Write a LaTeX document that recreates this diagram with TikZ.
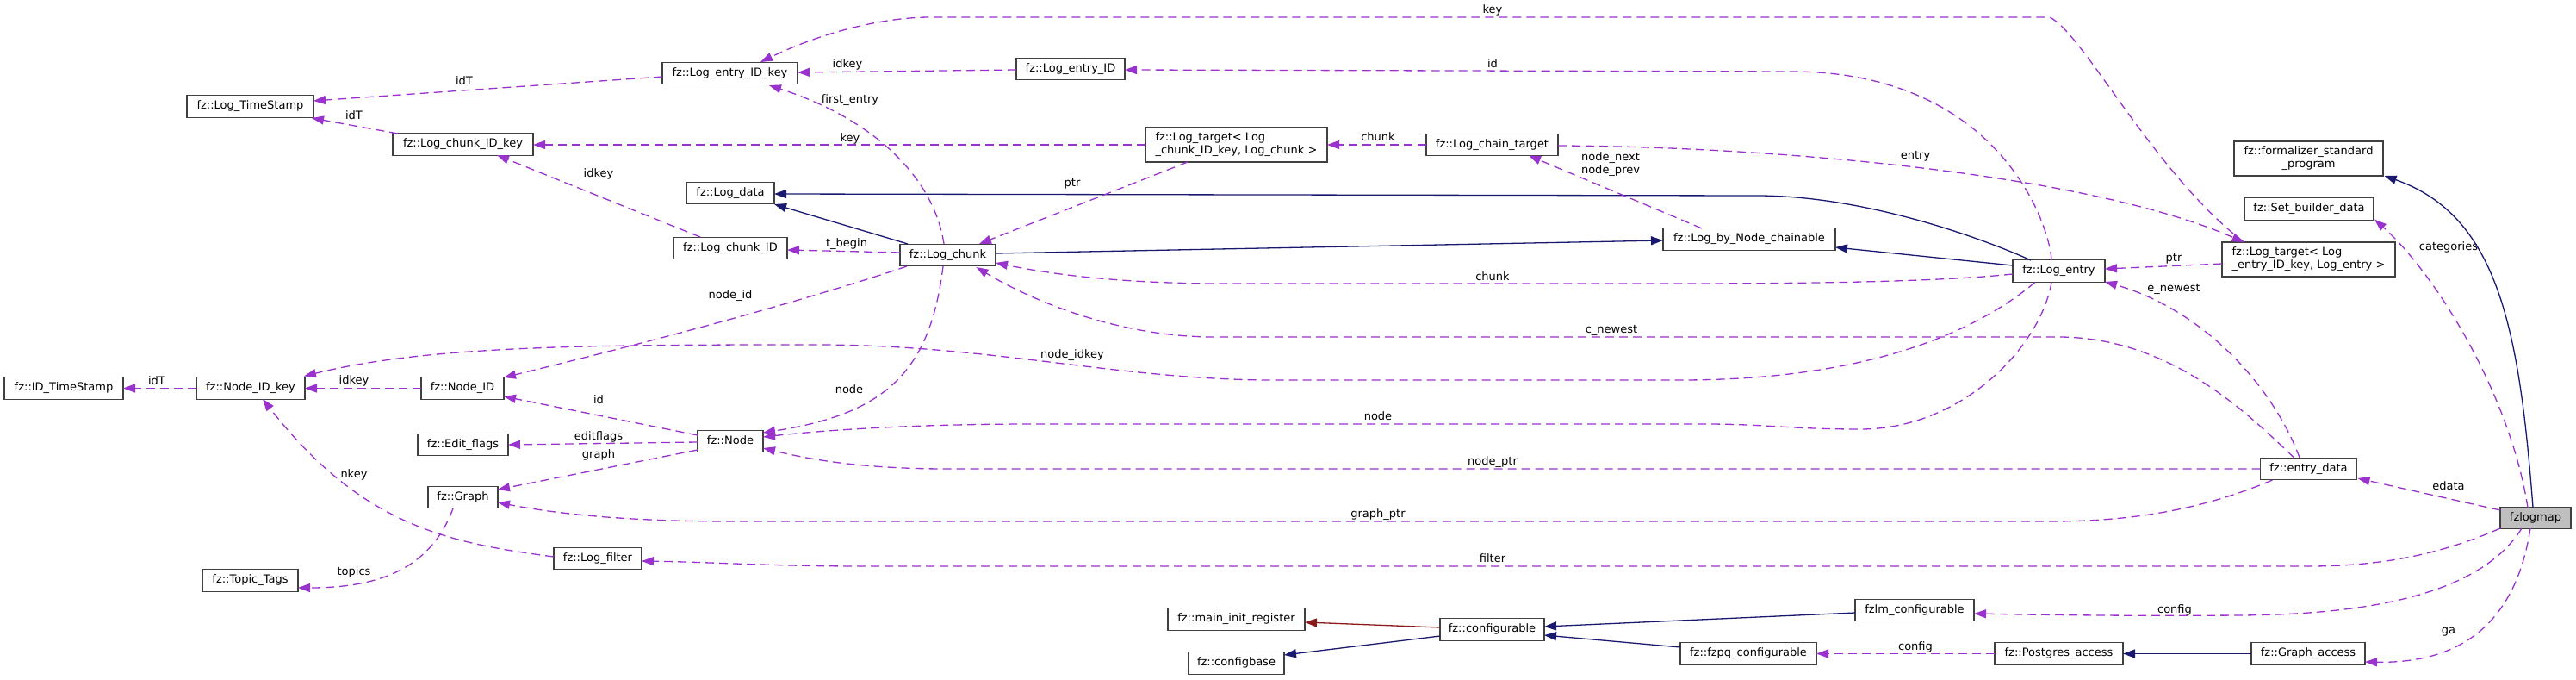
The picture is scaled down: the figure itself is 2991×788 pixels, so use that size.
\documentclass[tikz,border=0pt]{standalone}
\usepackage{fontspec}
\setmainfont{DejaVu Sans}
\usetikzlibrary{arrows.meta,calc}
\definecolor{epurple}{HTML}{9A32CD}
\definecolor{enavy}{HTML}{191970}
\definecolor{ered}{HTML}{8B1A1A}
\definecolor{eborder}{HTML}{404040}
\definecolor{rootfill}{HTML}{BFBFBF}
\tikzset{
  box/.style={draw=eborder, fill=white, line width=1.3pt, inner sep=0pt, minimum height=25.5pt,
    font=\fontsize{13}{15}\selectfont, text height=9.5pt, text depth=3pt},
  boxtwo/.style={draw=eborder, fill=white, line width=1.3pt, inner sep=0pt, minimum height=40pt,
    align=left, font=\fontsize{13}{15}\selectfont},
  usage/.style={draw=epurple, line width=1.3pt, dash pattern=on 10pt off 6pt,
    -{Triangle[length=14pt,width=10pt]}},
  inh/.style={draw=enavy, line width=1.3pt, -{Triangle[length=14pt,width=10pt]}},
  prot/.style={draw=ered, line width=1.3pt, -{Triangle[length=14pt,width=10pt]}},
  lbl/.style={font=\fontsize{13}{15}\selectfont, inner sep=0pt, text=black}
}
\begin{document}
\begin{tikzpicture}[x=1pt,y=-1pt]
\path[use as bounding box] (0,0) rectangle (2991,788);
% nodes
\node[box, minimum width=147pt] (LTS) at (290.5,123.5) {fz::Log\_TimeStamp};
\node[box, minimum width=163pt] (LCK) at (537.5,167.5) {fz::Log\_chunk\_ID\_key};
\node[box, minimum width=157pt] (LEK) at (847.5,85) {fz::Log\_entry\_ID\_key};
\node[box, minimum width=102pt] (LD) at (848,224) {fz::Log\_data};
\node[box, minimum width=132pt] (LCI) at (848,288) {fz::Log\_chunk\_ID};
\node[box, minimum width=111pt] (LC) at (1100.5,296) {fz::Log\_chunk};
\node[box, minimum width=126pt] (LEI) at (1243,80) {fz::Log\_entry\_ID};
\node[boxtwo, minimum width=211pt] (LTC) at (1435.5,168) {fz::Log\_target< Log\\\_chunk\_ID\_key, Log\_chunk >};
\node[box, minimum width=153pt] (LCT) at (1732.5,168) {fz::Log\_chain\_target};
\node[box, minimum width=200pt] (LBN) at (2031,277.5) {fz::Log\_by\_Node\_chainable};
\node[box, minimum width=107pt] (LE) at (2390.5,314.5) {fz::Log\_entry};
\node[boxtwo, minimum width=201pt] (LTE) at (2680.5,301) {fz::Log\_target< Log\\\_entry\_ID\_key, Log\_entry >};
\node[boxtwo, align=center, minimum width=173pt] (FSP) at (2680.5,184) {fz::formalizer\_standard\\\_program};
\node[box, minimum width=150pt] (SBD) at (2681,242.5) {fz::Set\_builder\_data};
\node[box, minimum width=112pt] (ED) at (2680.5,544) {fz::entry\_data};
\node[box, fill=rootfill, minimum width=82pt] (FLM) at (2944,601) {fzlogmap};
\node[box, minimum width=138pt] (FLC) at (2223,708) {fzlm\_configurable};
\node[box, minimum width=158pt] (FPQ) at (2030,758.5) {fz::fzpq\_configurable};
\node[box, minimum width=149pt] (PGA) at (2390.5,758.5) {fz::Postgres\_access};
\node[box, minimum width=132pt] (GA) at (2680,758.5) {fz::Graph\_access};
\node[box, minimum width=159pt] (MIR) at (1435.5,718.5) {fz::main\_init\_register};
\node[box, minimum width=121pt] (CFG) at (1732.5,730.5) {fz::configurable};
\node[box, minimum width=111pt] (CB) at (1435.5,769.5) {fz::configbase};
\node[box, minimum width=138pt] (IDT) at (74,450.5) {fz::ID\_TimeStamp};
\node[box, minimum width=126pt] (NIK) at (291,450.5) {fz::Node\_ID\_key};
\node[box, minimum width=96pt] (NID) at (537,450.5) {fz::Node\_ID};
\node[box, minimum width=105pt] (EF) at (537.5,516) {fz::Edit\_flags};
\node[box, minimum width=76pt] (ND) at (848,512) {fz::Node};
\node[box, minimum width=81pt] (GR) at (537.5,577) {fz::Graph};
\node[box, minimum width=102pt] (LF) at (694,648) {fz::Log\_filter};
\node[box, minimum width=111pt] (TT) at (290.5,673.5) {fz::Topic\_Tags};
% edges
\draw[usage] ($(LEK)+(-78.5,4)$) -- ($(LTS)+(73.5,-6.5)$);
\node[lbl] (l1) at (539,94) {idT};
\draw[usage] ($(LCK)+(-75.5,-12.5)$) -- ($(LTS)+(71.5,13.5)$);
\node[lbl] (l2) at (411,134) {idT};
\draw[usage] ($(LEI)+(-63,1)$) -- ($(LEK)+(78.5,-1)$);
\node[lbl] (l3) at (984,75) {idkey};
\draw[usage] ($(LC)+(-4.5,-13)$) .. controls (1085,210) and (1020,140) .. ($(LEK)+(45.5,14)$);
\node[lbl] (l4) at (987,116) {first\_entry};
\draw[usage] ($(LTE)+(-75,-20)$) .. controls (2500,200) and (2420,40) .. (2380,20) -- (1080,20) .. controls (1030,20) and (960,35) .. ($(LEK)+(35.5,-13)$);
\node[lbl] (l5) at (1733,12) {key};
\draw[usage] ($(LCT)+(-76.5,0)$) -- ($(LTC)+(105.5,0)$);
\node[lbl] (l6) at (1600,159) {chunk};
\draw[usage] ($(LTC)+(-105.5,0)$) -- ($(LCK)+(81.5,0.5)$);
\node[lbl] (l7) at (987,161) {key};
\draw[usage] ($(LC)+(-55.5,-3)$) -- ($(LCI)+(66,2)$);
\node[lbl] (l8) at (983,283) {t\_begin};
\draw[usage] ($(LCI)+(-35,-13)$) -- ($(LCK)+(39.5,12.5)$);
\node[lbl] (l9) at (695,202) {idkey};
\draw[inh] ($(LC)+(-46.5,-13)$) -- ($(LD)+(51,13)$);
\draw[inh] ($(LE)+(-32.5,-12.5)$) .. controls (2310,280) and (2170,227) .. (2040,227) -- ($(LD)+(51,1)$);
\draw[inh] ($(LE)+(-53.5,-6.5)$) -- ($(LBN)+(100,9.5)$);
\draw[inh] ($(LC)+(55.5,-2)$) -- ($(LBN)+(-100,1.5)$);
\draw[usage] ($(LBN)+(-55,-12.5)$) -- ($(LCT)+(42.5,12.5)$);
\node[lbl, align=center] (l14) at (1870,191) {node\_next\\node\_prev};
\draw[usage] ($(LTC)+(-56.5,20)$) -- ($(LC)+(36.5,-13)$);
\node[lbl] (l15) at (1245,213) {ptr};
\draw[usage] ($(LCT)+(76.5,1)$) .. controls (2050,170) and (2420,200) .. ($(LTE)+(-75,-20)$);
\node[lbl] (l16) at (2224,181) {entry};
\draw[usage] ($(LTE)+(-100.5,5)$) -- ($(LE)+(53.5,-2.5)$);
\node[lbl] (l17) at (2524,300) {ptr};
\draw[usage] ($(LE)+(-53.5,3.5)$) .. controls (2250,327) and (2100,329) .. (1950,329) -- (1420,329) .. controls (1300,329) and (1220,318) .. ($(LC)+(55.5,9)$);
\node[lbl] (l18) at (1733,321) {chunk};
\draw[usage] ($(LE)+(-8.5,-12.5)$) .. controls (2380,260) and (2320,83) .. (2080,83) -- ($(LEI)+(63,1)$);
\node[lbl] (l19) at (1733,74) {id};
\draw[usage] ($(ED)+(-17,-13)$) .. controls (2610,480) and (2520,391) .. (2390,391) -- (1410,391) .. controls (1300,391) and (1200,350) .. ($(LC)+(33,14)$);
\node[lbl] (l20) at (1871,383) {c\_newest};
\draw[usage] ($(ED)+(-10.5,-13)$) .. controls (2640,450) and (2560,360) .. ($(LE)+(53.5,12.5)$);
\node[lbl] (l21) at (2524,335) {e\_newest};
\draw[usage] ($(LE)+(-27.5,13)$) .. controls (2300,380) and (2180,441) .. (1950,441) -- (1480,441) .. controls (1300,441) and (1150,400) .. (950,400) .. controls (700,400) and (500,400) .. ($(NIK)+(62,-14)$);
\node[lbl] (l22) at (1245,412) {node\_idkey};
\draw[usage] ($(LE)+(-8.5,13)$) .. controls (2370,400) and (2280,498) .. (2160,498) .. controls (2080,498) and (2050,492) .. (1980,492) -- (1200,492) .. controls (1050,492) and (950,500) .. ($(ND)+(38,-5)$);
\node[lbl] (l23) at (1600,483) {node};
\draw[usage] ($(LC)+(-5.5,13)$) .. controls (1080,430) and (1030,480) .. ($(ND)+(38,-10)$);
\node[lbl] (l24) at (986,452) {node};
\draw[usage] ($(LC)+(-47.5,13)$) .. controls (900,360) and (700,410) .. ($(NID)+(48,-12.5)$);
\node[lbl] (l25) at (848,343) {node\_id};
\draw[usage] ($(ND)+(-38,-7)$) -- ($(NID)+(48,9.5)$);
\node[lbl] (l26) at (695,464) {id};
\draw[usage] ($(ND)+(-38,1)$) -- ($(EF)+(52.5,0)$);
\node[lbl] (l27) at (695,507) {editflags};
\draw[usage] ($(ND)+(-38,10)$) -- ($(GR)+(40.5,-9)$);
\node[lbl] (l28) at (695,528) {graph};
\draw[usage] ($(ED)+(-56,0)$) -- (1100,544) .. controls (1000,544) and (940,533) .. ($(ND)+(38,8)$);
\node[lbl] (l29) at (1733,536) {node\_ptr};
\draw[usage] ($(ED)+(-42,13)$) .. controls (2560,590) and (2480,605) .. (2380,605) -- (850,605) .. controls (720,605) and (640,595) .. ($(GR)+(40.5,6)$);
\node[lbl] (l30) at (1600,597) {graph\_ptr};
\draw[usage] ($(NID)+(-48,0)$) -- ($(NIK)+(63,0)$);
\node[lbl] (l31) at (411,442) {idkey};
\draw[usage] ($(NIK)+(-63,0)$) -- ($(IDT)+(69,0)$);
\node[lbl] (l32) at (182,442) {idT};
\draw[usage] ($(LF)+(-51,-2)$) .. controls (520,630) and (420,610) .. ($(NIK)+(14,12.5)$);
\node[lbl] (l33) at (411,551) {nkey};
\draw[usage] ($(GR)+(-11.5,13)$) .. controls (500,660) and (440,682) .. ($(TT)+(55.5,8.5)$);
\node[lbl] (l34) at (411,664) {topics};
\draw[usage] ($(FLM)+(-41,12)$) .. controls (2830,645) and (2760,657) .. (2680,657) -- (1000,657) .. controls (900,657) and (820,652) .. ($(LF)+(51,3)$);
\node[lbl] (l35) at (1733,648) {filter};
\draw[usage] ($(FLM)+(-41,-9)$) -- ($(ED)+(57,11)$);
\node[lbl] (l36) at (2843,564) {edata};
\draw[usage] ($(FLM)+(-9,-12)$) .. controls (2915,460) and (2830,320) .. ($(SBD)+(76,12)$);
\node[lbl] (l37) at (2843,287) {categories};
\draw[inh] ($(FLM)+(-3,-12)$) .. controls (2925,380) and (2900,250) .. ($(FSP)+(88,20)$);
\draw[usage] ($(FLM)+(-16,12)$) .. controls (2880,690) and (2750,713) .. (2600,714) .. controls (2450,715) and (2350,713) .. ($(FLC)+(69,4)$);
\node[lbl] (l39) at (2525,708) {config};
\draw[usage] ($(FLM)+(-6,12)$) .. controls (2920,730) and (2850,770) .. ($(GA)+(66,9.5)$);
\node[lbl] (l40) at (2843,733) {ga};
\draw[inh] ($(GA)+(-66,0)$) -- ($(PGA)+(74.5,0)$);
\draw[usage] ($(PGA)+(-74.5,0)$) -- ($(FPQ)+(79,0)$);
\node[lbl] (l42) at (2224,751) {config};
\draw[inh] ($(FLC)+(-69,3)$) -- ($(CFG)+(60.5,-3.5)$);
\draw[inh] ($(FPQ)+(-79,-7.5)$) -- ($(CFG)+(60.5,6.5)$);
\draw[prot] ($(CFG)+(-60.5,-2.5)$) -- ($(MIR)+(79.5,3.5)$);
\draw[inh] ($(CFG)+(-60.5,7.5)$) -- ($(CB)+(55.5,-9.5)$);
\end{tikzpicture}
\end{document}
